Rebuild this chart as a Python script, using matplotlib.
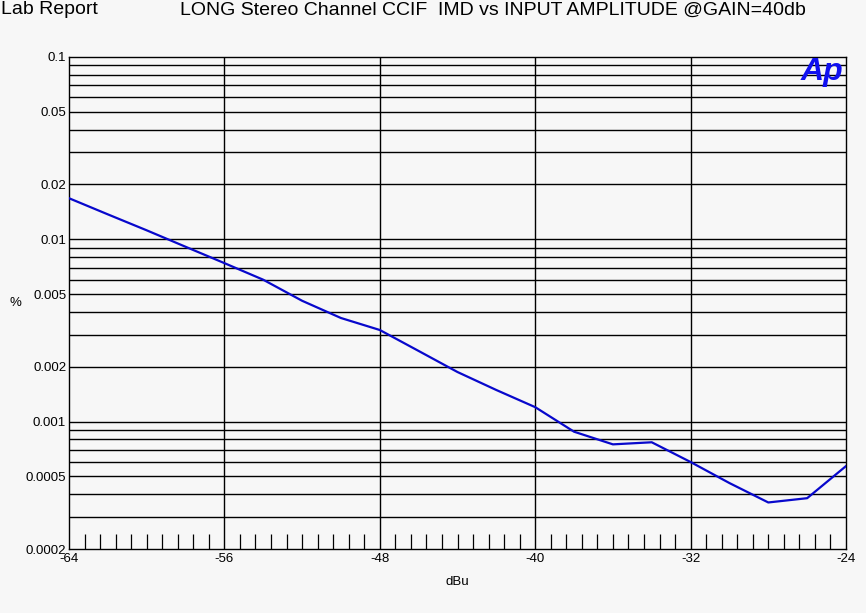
import numpy as np
import matplotlib
matplotlib.use("Agg")
import matplotlib.pyplot as plt
from matplotlib.ticker import FixedLocator, NullFormatter, MultipleLocator

# input amplitude (dBu) and IMD (%)
amp_dbu = [-64, -62, -60, -58, -56, -54, -52, -50, -48, -46, -44, -42, -40,
           -38, -36, -34, -32, -30, -28, -26, -24]
imd_pct = [0.0168, 0.0137, 0.0112, 0.0091, 0.0074, 0.0060, 0.0046, 0.0037,
           0.00318, 0.00244, 0.00187, 0.00149, 0.00120, 0.00088, 0.00075,
           0.00077, 0.00060, 0.00046, 0.00036, 0.00038, 0.00057]

x_ticks = [-64, -56, -48, -40, -32, -24]
y_ticks = [0.1, 0.05, 0.02, 0.01, 0.005, 0.002, 0.001, 0.0005, 0.0002]
y_tick_labels = ["0.1", "0.05", "0.02", "0.01", "0.005", "0.002", "0.001", "0.0005", "0.0002"]

plt.rcParams['font.family'] = ['Liberation Sans', 'DejaVu Sans']

bg = '#f7f7f7'
fig = plt.figure(figsize=(8.66, 6.13), dpi=100, facecolor=bg)
ax = fig.add_axes([69/866, 64/613, 777/866, 492/613])
ax.set_facecolor(bg)

ax.set_yscale('log')
ax.set_xlim(-64, -24)
ax.set_ylim(0.0002, 0.1)

# horizontal grid at every decade step
grid_y = [m * 10.0**e for e in range(-4, -1) for m in range(1, 10)]
grid_y = [g for g in grid_y if 0.0002 < g < 0.1]
for g in grid_y:
    ax.axhline(g, color='black', lw=1.0, zorder=1)
for xv in x_ticks[1:-1]:
    ax.axvline(xv, color='black', lw=1.0, zorder=1)

ax.plot(amp_dbu, imd_pct, color='#0808cc', lw=1.6, zorder=3)

ax.yaxis.set_major_locator(FixedLocator(y_ticks))
ax.set_yticklabels(y_tick_labels)
ax.yaxis.set_minor_locator(FixedLocator([]))
ax.yaxis.set_minor_formatter(NullFormatter())
ax.set_xticks(x_ticks)
ax.set_xticklabels([str(v) for v in x_ticks])
ax.xaxis.set_minor_locator(MultipleLocator(0.8))

ax.tick_params(axis='both', which='major', length=0, labelsize=9.5, colors='black')
ax.tick_params(axis='x', which='major', pad=3)
ax.tick_params(axis='y', which='major', pad=2)
ax.tick_params(axis='x', which='minor', direction='in', length=11, width=0.9,
               bottom=True, top=False)

for s in ax.spines.values():
    s.set_linewidth(1.0)

ax.set_xlabel('dBu', fontsize=9.5, labelpad=8)
fig.text(9/866, 1 - 303/613, '%', fontsize=9.5, ha='left', va='center')

fig.text(1/866, 1 - 10/613, 'Lab Report', fontsize=14, ha='left', va='center')
fig.text(180/866, 1 - 10/613,
         'LONG Stereo Channel CCIF  IMD vs INPUT AMPLITUDE @GAIN=40db',
         fontsize=14, ha='left', va='center')

ax.text(0.996, 0.999, 'Ap', transform=ax.transAxes, ha='right', va='top',
        fontsize=23, fontweight='bold', fontstyle='italic', color='#1010f0', zorder=4)

fig.savefig('out.png', dpi=100, facecolor=bg)
